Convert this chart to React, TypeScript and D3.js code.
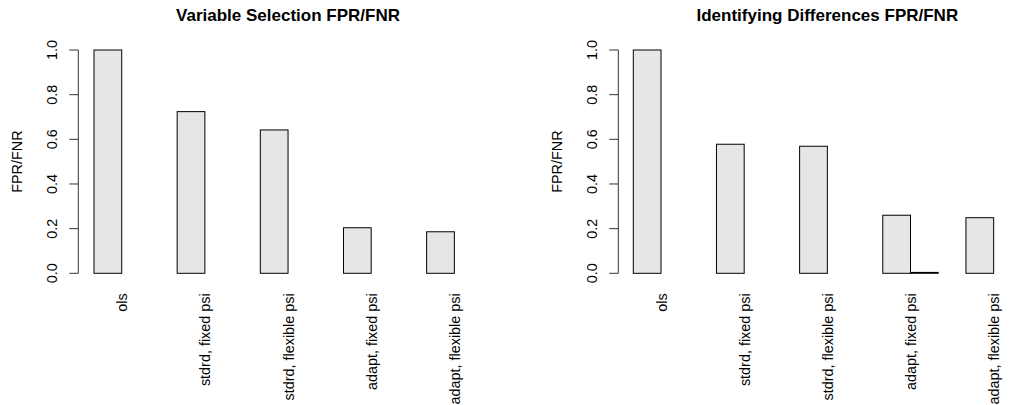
import { useEffect, useRef } from "react"
import * as d3 from "d3"

// method labels (one group of two bars each: FPR then FNR)
const methods = ["ols", "stdrd, fixed psi", "stdrd, flexible psi", "adapt, fixed psi", "adapt, flexible psi"]

// Variable selection panel
const varSelFPR = [1.0, 0.724, 0.642, 0.204, 0.186]
const varSelFNR = [0, 0, 0, 0, 0]

// Identifying differences panel
const diffFPR = [1.0, 0.578, 0.569, 0.26, 0.249]
const diffFNR = [0, 0, 0, 0.004, 0]

const yTicks = [0, 0.2, 0.4, 0.6, 0.8, 1.0]

interface Panel {
  title: string
  fpr: number[]
  fnr: number[]
  axisX: number
  barStart: number
}

const panels: Panel[] = [
  { title: "Variable Selection FPR/FNR", fpr: varSelFPR, fnr: varSelFNR, axisX: 78.3, barStart: 94 },
  { title: "Identifying Differences FPR/FNR", fpr: diffFPR, fnr: diffFNR, axisX: 618.3, barStart: 633.3 },
]

const App = () => {
  const svgRef = useRef<SVGSVGElement | null>(null)

  useEffect(() => {
    if (!svgRef.current) return
    const svg = d3.select(svgRef.current)
    svg.selectAll("*").remove()

    const font = "'Liberation Sans', Arial, Helvetica, sans-serif"
    const fontSize = 14.4
    const unit = 27.72
    const y = d3.scaleLinear().domain([0, 1]).range([273.3, 50])

    panels.forEach((p) => {
      // barplot with beside=TRUE: space = c(0, 1), so groups start at 1, 4, 7, ...
      const x = d3.scaleLinear().domain([1, 15]).range([p.barStart, p.barStart + 14 * unit])
      const g = svg.append("g").attr("font-family", font)

      const bars = methods.flatMap((m, i) => [
        { key: m + "-fpr", start: 1 + 3 * i, value: p.fpr[i] },
        { key: m + "-fnr", start: 2 + 3 * i, value: p.fnr[i] },
      ])

      g.selectAll("rect.bar")
        .data(bars)
        .join("rect")
        .attr("class", "bar")
        .attr("x", (d) => x(d.start))
        .attr("width", (d) => x(d.start + 1) - x(d.start))
        .attr("y", (d) => y(d.value))
        .attr("height", (d) => y(0) - y(d.value))
        .attr("fill", "#e6e6e6")
        .attr("stroke", "#000")
        .attr("stroke-width", 1)

      // y axis
      g.append("line")
        .attr("x1", p.axisX)
        .attr("x2", p.axisX)
        .attr("y1", y(0))
        .attr("y2", y(1))
        .attr("stroke", "#333")
        .attr("stroke-width", 1)

      g.selectAll("line.tick")
        .data(yTicks)
        .join("line")
        .attr("class", "tick")
        .attr("x1", p.axisX - 9)
        .attr("x2", p.axisX)
        .attr("y1", (d) => y(d))
        .attr("y2", (d) => y(d))
        .attr("stroke", "#333")
        .attr("stroke-width", 1)

      g.selectAll("text.ytick")
        .data(yTicks)
        .join("text")
        .attr("class", "ytick")
        .attr("transform", (d) => `translate(${p.axisX - 21},${y(d)}) rotate(-90)`)
        .attr("text-anchor", "middle")
        .attr("font-size", fontSize)
        .attr("fill", "#000")
        .text((d) => d3.format(".1f")(d))

      // y label
      g.append("text")
        .attr("transform", `translate(${p.axisX - 56.5},${(y(0) + y(1)) / 2}) rotate(-90)`)
        .attr("text-anchor", "middle")
        .attr("font-size", fontSize)
        .text("FPR/FNR")

      // group labels, las = 2
      g.selectAll("text.xlab")
        .data(methods)
        .join("text")
        .attr("class", "xlab")
        .attr("transform", (d, i) => `translate(${x(2 + 3 * i) + 5.5},${y(0) + 20}) rotate(-90)`)
        .attr("text-anchor", "end")
        .attr("font-size", fontSize)
        .text((d) => d)

      // title
      g.append("text")
        .attr("x", x(8))
        .attr("y", 20.5)
        .attr("text-anchor", "middle")
        .attr("font-size", 17)
        .attr("font-weight", "bold")
        .text(p.title)
    })
  }, [])

  return (
    <svg
      ref={svgRef}
      width={1017}
      height={405}
      style={{ position: "fixed", left: 0, top: 0, background: "#fff" }}
    />
  )
}

export default App
